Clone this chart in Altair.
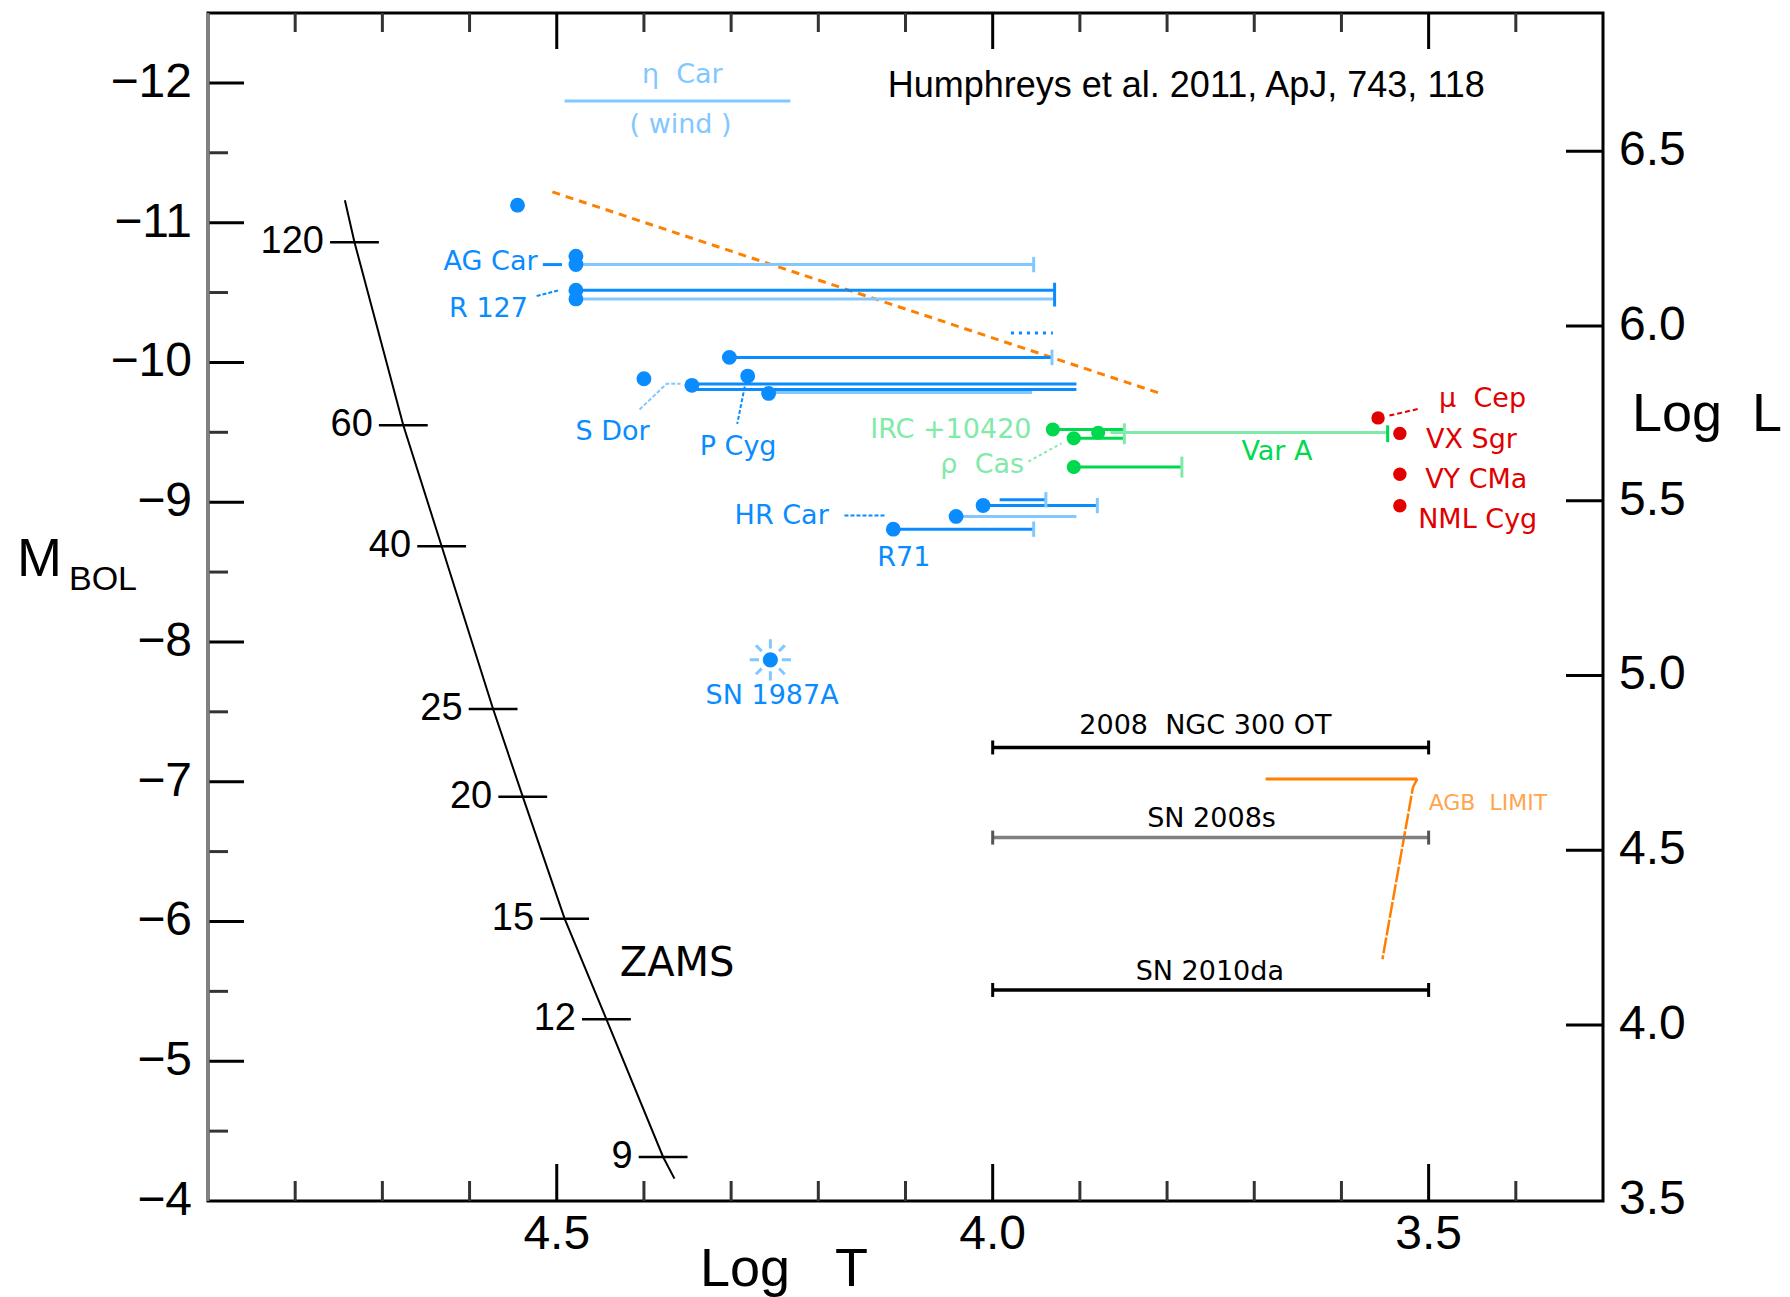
import altair as alt
import pandas as pd

W, H = 1395, 1188
xs = alt.Scale(domain=[3.3, 4.9], reverse=True, nice=False, zero=False)
ys = alt.Scale(domain=[-12.5, -4.0], reverse=True, nice=False, zero=False)

DARK = "#0a8cff"
LIGHT = "#82c8ff"
GREEN = "#00d84e"
LGREEN = "#80eaa8"
RED = "#e00000"
ORANGE = "#ff7f00"
LORANGE = "#ffa64d"
DV = "DejaVu Sans"
LS = "Liberation Sans"

# ---------------- data ----------------
# ZAMS track
zams_logT = [4.743, 4.732, 4.676, 4.632, 4.573, 4.539, 4.491, 4.443, 4.378, 4.365]
zams_M = [-11.16, -10.86, -9.55, -8.685, -7.52, -6.893, -6.02, -5.30, -4.315, -4.16]
mass_lab = ["120", "60", "40", "25", "20", "15", "12", "9"]
mass_logT = [4.732, 4.676, 4.632, 4.573, 4.539, 4.491, 4.443, 4.378]
mass_M = [-10.86, -9.55, -8.685, -7.52, -6.893, -6.02, -5.30, -4.315]

# LBV dots (dark blue)
blue_logT = [4.545, 4.478, 4.478, 4.478, 4.478, 4.302, 4.400, 4.345, 4.281, 4.257,
             4.114, 4.042, 4.011]
blue_M = [-11.125, -10.76, -10.70, -10.517, -10.454, -10.036, -9.883, -9.836, -9.902,
          -9.778, -8.807, -8.898, -8.976]

# excursions (dark blue)
dk_x1 = [4.478, 4.302, 4.345, 4.345, 4.114, 4.011, 3.992]
dk_x2 = [3.929, 3.932, 3.904, 3.904, 3.953, 3.880, 3.939]
dk_M = [-10.517, -10.036, -9.845, -9.806, -8.807, -8.976, -9.017]
# excursions (light blue)
lt_x1 = [4.478, 4.478, 4.257, 4.042, 4.491]
lt_x2 = [3.953, 3.929, 3.955, 3.904, 4.232]
lt_M = [-10.70, -10.454, -9.785, -8.898, -11.87]
lt_cap_x = [3.953, 3.932, 3.953, 3.880, 3.939]
lt_cap_M = [-10.70, -10.036, -8.807, -8.976, -9.017]
dk_cap_x = [3.929]
dk_cap_M = [-10.485]

# small dotted blue feature
dot_x1 = [3.979]
dot_x2 = [3.931]
dot_M = [-10.21]

# SN 1987A
sn87_logT = [4.255]
sn87_M = [-7.872]

# yellow hypergiants (green)
grn_logT = [3.931, 3.907, 3.879, 3.907]
grn_M = [-9.520, -9.457, -9.497, -9.251]
gd_x1 = [3.931, 3.907, 3.907]
gd_x2 = [3.849, 3.849, 3.783]
gd_M = [-9.520, -9.457, -9.251]
gl_x1 = [3.865]
gl_x2 = [3.547]
gl_M = [-9.499]
gl_cap_x = [3.849, 3.783]
gl_cap_M = [-9.489, -9.251]
gd_cap_x = [3.547]
gd_cap_M = [-9.49]

# red supergiants
red_logT = [3.558, 3.533, 3.533, 3.533]
red_M = [-9.603, -9.492, -9.20, -8.975]

# transients
blk_x1 = [4.0, 4.0]
blk_x2 = [3.5, 3.5]
blk_M = [-7.245, -5.51]
gry_x1 = [4.0]
gry_x2 = [3.5]
gry_M = [-6.60]

# Humphreys-Davidson limit and AGB limit
hd_logT = [4.505, 3.804]
hd_M = [-11.22, -9.77]
agb_h_logT = [3.687, 3.513]
agb_h_M = [-7.02, -7.02]
agb_v_logT = [3.513, 3.518, 3.553]
agb_v_M = [-7.02, -6.96, -5.73]

# label connectors
ag_x = [4.516, 4.494]
ag_M = [-10.70, -10.70]
bconn_id = ["r127", "r127", "pcyg", "pcyg", "hr", "hr"]
bconn_x = [4.523, 4.497, 4.283, 4.293, 4.170, 4.124]
bconn_M = [-10.475, -10.517, -9.87, -9.56, -8.905, -8.905]
sdor_x = [4.405, 4.374, 4.358]
sdor_M = [-9.663, -9.847, -9.847]
rcas_x = [3.959, 3.921]
rcas_M = [-9.291, -9.421]
mcep_x = [3.545, 3.51]
mcep_M = [-9.62, -9.67]

# labels
dk_lab = ["S Dor", "P Cyg", "HR Car", "R71", "SN 1987A"]
dk_lab_x = [4.436, 4.292, 4.242, 4.102, 4.253]
dk_lab_M = [-9.50, -9.394, -8.903, -8.601, -7.613]
dkr_lab = ["AG Car", "R 127"]
dkr_lab_x = [4.522, 4.533]
dkr_lab_M = [-10.717, -10.382]
lt_lab = ["\u03b7\u00a0\u00a0Car", "(\u00a0wind\u00a0)"]
lt_lab_x = [4.356, 4.358]
lt_lab_M = [-12.057, -11.70]
lg_lab = ["IRC +10420", "\u03c1\u00a0\u00a0Cas"]
lg_lab_x = [4.048, 4.012]
lg_lab_M = [-9.516, -9.263]
gd_lab = ["Var A"]
gd_lab_x = [3.674]
gd_lab_M = [-9.361]
red_lab = ["\u03bc\u00a0\u00a0Cep", "VX Sgr", "VY CMa", "NML Cyg"]
red_lab_x = [3.488, 3.503, 3.504, 3.512]
red_lab_M = [-9.737, -9.443, -9.157, -8.871]
blk_lab = ["2008\u00a0\u00a0NGC 300 OT", "SN 2008s", "SN 2010da"]
blk_lab_x = [3.756, 3.749, 3.751]
blk_lab_M = [-7.40, -6.73, -5.636]

# axes
top_major = [4.5, 4.0, 3.5]
top_minor = [4.8, 4.7, 4.6, 4.4, 4.3, 4.2, 4.1, 3.9, 3.8, 3.7, 3.6, 3.4]
left_major = [-12, -11, -10, -9, -8, -7, -6, -5]
left_minor = [-11.5, -10.5, -9.5, -8.5, -7.5, -6.5, -5.5, -4.5]
left_lab = [-12, -11, -10, -9, -8, -7, -6, -5, -4]
bottom_lab = [4.5, 4.0, 3.5]
logL_lab = [6.5, 6.0, 5.5, 5.0, 4.5, 4.0, 3.5]
logL_ticks = [6.5, 6.0, 5.5, 5.0, 4.5, 4.0]


# ---------------- helpers ----------------
def X(f):
    return alt.X(f, type="quantitative", scale=xs, axis=None)


def Y(f):
    return alt.Y(f, type="quantitative", scale=ys, axis=None)


def seg_layer(x1, x2, m, color, width=3, dash=None):
    df = pd.DataFrame({"x1": x1, "x2": x2, "M": m})
    kw = dict(color=color, strokeWidth=width)
    if dash:
        kw["strokeDash"] = dash
    return alt.Chart(df).mark_rule(**kw).encode(x=X("x1"), x2=alt.X2("x2"), y=Y("M"))


def cap_layer(x, m, color, half=0.055, width=3):
    df = pd.DataFrame({"x": x, "M": m})
    return (alt.Chart(df)
            .transform_calculate(lo=f"datum.M - {half}", hi=f"datum.M + {half}")
            .mark_rule(color=color, strokeWidth=width)
            .encode(x=X("x"), y=Y("lo"), y2=alt.Y2("hi")))


def poly_layer(ids, x, m, color, width=2, dash=None):
    df = pd.DataFrame({"id": ids, "x": x, "M": m})
    df["i"] = range(len(df))
    kw = dict(color=color, strokeWidth=width)
    if dash:
        kw["strokeDash"] = dash
    return alt.Chart(df).mark_line(**kw).encode(
        x=X("x"), y=Y("M"), detail="id:N", order="i:Q")


def dot_layer(x, m, color, size=220):
    df = pd.DataFrame({"x": x, "M": m})
    return alt.Chart(df).mark_circle(color=color, size=size, opacity=1).encode(x=X("x"), y=Y("M"))


def text_layer(labels, x, m, color, size=27, font=DV, align="center"):
    df = pd.DataFrame({"label": labels, "x": x, "M": m})
    return alt.Chart(df).mark_text(color=color, fontSize=size, font=font, align=align,
                                   baseline="middle").encode(x=X("x"), y=Y("M"), text="label:N")


def pix_text(txt, px, py, size, font=LS, align="left", baseline="alphabetic"):
    return alt.Chart(pd.DataFrame({"t": [0]})).mark_text(
        text=txt, fontSize=size, font=font, color="black", align=align, baseline=baseline
    ).encode(x=alt.value(px), y=alt.value(py))


layers = []

# frame ticks
layers.append(alt.Chart(pd.DataFrame({"v": top_major})).mark_rule(color="black", strokeWidth=3)
              .encode(x=X("v"), y=alt.value(0), y2=alt.value(36)))
layers.append(alt.Chart(pd.DataFrame({"v": top_minor})).mark_rule(color="#333333", strokeWidth=3)
              .encode(x=X("v"), y=alt.value(0), y2=alt.value(19)))
layers.append(alt.Chart(pd.DataFrame({"v": top_major})).mark_rule(color="black", strokeWidth=3)
              .encode(x=X("v"), y=alt.value(H), y2=alt.value(H - 37)))
layers.append(alt.Chart(pd.DataFrame({"v": top_minor})).mark_rule(color="#333333", strokeWidth=3)
              .encode(x=X("v"), y=alt.value(H), y2=alt.value(H - 20)))
layers.append(alt.Chart(pd.DataFrame({"v": left_major})).mark_rule(color="black", strokeWidth=3)
              .encode(y=Y("v"), x=alt.value(0), x2=alt.value(36)))
layers.append(alt.Chart(pd.DataFrame({"v": left_minor})).mark_rule(color="#333333", strokeWidth=3)
              .encode(y=Y("v"), x=alt.value(0), x2=alt.value(20)))
layers.append(alt.Chart(pd.DataFrame({"L": logL_ticks}))
              .transform_calculate(M="4.74 - 2.5 * datum.L")
              .mark_rule(color="black", strokeWidth=3)
              .encode(y=Y("M"), x=alt.value(W - 37), x2=alt.value(W)))
# gray left spine
layers.append(alt.Chart(pd.DataFrame({"t": [0]})).mark_rule(color="#808080", strokeWidth=3)
              .encode(x=alt.value(0), y=alt.value(0), y2=alt.value(H)))

# tick labels
layers.append(alt.Chart(pd.DataFrame({"M": left_lab}))
              .transform_calculate(lab="'\u2212' + abs(datum.M)")
              .mark_text(font=LS, fontSize=48, align="right", baseline="middle", color="black")
              .encode(y=Y("M"), x=alt.value(-16), text="lab:N"))
layers.append(alt.Chart(pd.DataFrame({"v": bottom_lab}))
              .mark_text(font=LS, fontSize=48, align="center", baseline="middle", color="black")
              .encode(x=X("v"), y=alt.value(1222), text=alt.Text("v:Q", format=".1f")))
layers.append(alt.Chart(pd.DataFrame({"L": logL_lab}))
              .transform_calculate(M="4.74 - 2.5 * datum.L")
              .mark_text(font=LS, fontSize=48, align="left", baseline="middle", color="black")
              .encode(y=Y("M"), x=alt.value(W + 16), text=alt.Text("L:Q", format=".1f")))

# axis titles
layers.append(pix_text("Log\u00a0\u00a0\u00a0T", 492, 1273, 54))
layers.append(pix_text("Log\u00a0\u00a0L", 1424, 418, 54))
layers.append(pix_text("M", -191, 563, 54))
layers.append(pix_text("BOL", -139, 577, 34))

# ZAMS
layers.append(poly_layer(["z"] * len(zams_logT), zams_logT, zams_M, "black", width=2))
mass_df = pd.DataFrame({"x": mass_logT, "M": mass_M, "label": mass_lab})
layers.append(alt.Chart(mass_df)
              .transform_calculate(a="datum.x + 0.028", b="datum.x - 0.028")
              .mark_rule(color="black", strokeWidth=2.5)
              .encode(x=X("a"), x2=alt.X2("b"), y=Y("M")))
layers.append(alt.Chart(mass_df)
              .transform_calculate(lx="datum.x + 0.035")
              .mark_text(font=LS, fontSize=38, align="right", baseline="middle", color="black")
              .encode(x=X("lx"), y=Y("M"), text="label:N"))
layers.append(text_layer(["ZAMS"], [4.362], [-5.693], "black", size=40))

# HD limit & AGB limit
layers.append(poly_layer(["hd", "hd"], hd_logT, hd_M, ORANGE, width=3, dash=[8, 6]))
layers.append(poly_layer(["a", "a"], agb_h_logT, agb_h_M, ORANGE, width=3))
layers.append(poly_layer(["v"] * 3, agb_v_logT, agb_v_M, ORANGE, width=2.5, dash=[16, 2]))
layers.append(text_layer(["AGB\u00a0\u00a0LIMIT"], [3.50], [-6.845], LORANGE, size=22, align="left"))

# transients
layers.append(seg_layer(blk_x1, blk_x2, blk_M, "black", width=3.5))
layers.append(cap_layer(blk_x1 + blk_x2, blk_M + blk_M, "black", half=0.05))
layers.append(seg_layer(gry_x1, gry_x2, gry_M, "#808080", width=3.5))
layers.append(cap_layer(gry_x1 + gry_x2, gry_M + gry_M, "#555555", half=0.05))
layers.append(text_layer(blk_lab, blk_lab_x, blk_lab_M, "black"))

# LBV excursions
layers.append(seg_layer(lt_x1, lt_x2, lt_M, LIGHT))
layers.append(seg_layer(dk_x1, dk_x2, dk_M, DARK))
layers.append(cap_layer(lt_cap_x, lt_cap_M, LIGHT))
layers.append(cap_layer(dk_cap_x, dk_cap_M, DARK, half=0.085))
layers.append(seg_layer(dot_x1, dot_x2, dot_M, DARK, width=3, dash=[3, 5]))
layers.append(poly_layer(["ag", "ag"], ag_x, ag_M, DARK, width=3))
layers.append(poly_layer(bconn_id, bconn_x, bconn_M, DARK, width=2, dash=[4, 2]))
layers.append(poly_layer(["s"] * 3, sdor_x, sdor_M, LIGHT, width=2, dash=[4, 2]))
layers.append(dot_layer(blue_logT, blue_M, DARK))

# SN 1987A
RAYS = ("M0,-1L0,-0.55M0,0.55L0,1M-1,0L-0.55,0M0.55,0L1,0"
        "M-0.7,-0.7L-0.42,-0.42M0.42,0.42L0.7,0.7M0.7,-0.7L0.42,-0.42M-0.42,0.42L-0.7,0.7")
layers.append(alt.Chart(pd.DataFrame({"x": sn87_logT, "M": sn87_M}))
              .mark_point(shape=RAYS, size=1700, filled=False, stroke=LIGHT, strokeWidth=3, opacity=1)
              .encode(x=X("x"), y=Y("M")))
layers.append(dot_layer(sn87_logT, sn87_M, DARK, size=230))

# yellow hypergiants
layers.append(seg_layer(gl_x1, gl_x2, gl_M, LGREEN))
layers.append(seg_layer(gd_x1, gd_x2, gd_M, GREEN))
layers.append(cap_layer(gl_cap_x, gl_cap_M, LGREEN, half=0.075))
layers.append(cap_layer(gd_cap_x, gd_cap_M, GREEN, half=0.06))
layers.append(poly_layer(["r", "r"], rcas_x, rcas_M, LGREEN, width=2, dash=[3, 3]))
layers.append(dot_layer(grn_logT, grn_M, GREEN, size=200))

# red supergiants
layers.append(poly_layer(["m", "m"], mcep_x, mcep_M, RED, width=2, dash=[5, 3]))
layers.append(dot_layer(red_logT, red_M, RED, size=180))

# labels
layers.append(text_layer(dk_lab, dk_lab_x, dk_lab_M, DARK))
layers.append(text_layer(dkr_lab, dkr_lab_x, dkr_lab_M, DARK, align="right"))
layers.append(text_layer(lt_lab, lt_lab_x, lt_lab_M, LIGHT))
layers.append(text_layer(lg_lab, lg_lab_x, lg_lab_M, LGREEN))
layers.append(text_layer(gd_lab, gd_lab_x, gd_lab_M, GREEN))
layers.append(text_layer(red_lab, red_lab_x, red_lab_M, RED, align="left"))
layers.append(text_layer(["Humphreys et al. 2011, ApJ, 743, 118"], [3.778], [-11.975],
                         "black", size=36, font=LS))

chart = (alt.layer(*layers)
         .properties(width=W, height=H,
                     padding={"left": 208, "top": 13, "right": 187, "bottom": 96},
                     autosize=alt.AutoSizeParams(type="none"),
                     background="white")
         .configure_view(stroke="black", strokeWidth=3))

chart.save("out.html", embed_options={"renderer": "svg", "actions": False})
